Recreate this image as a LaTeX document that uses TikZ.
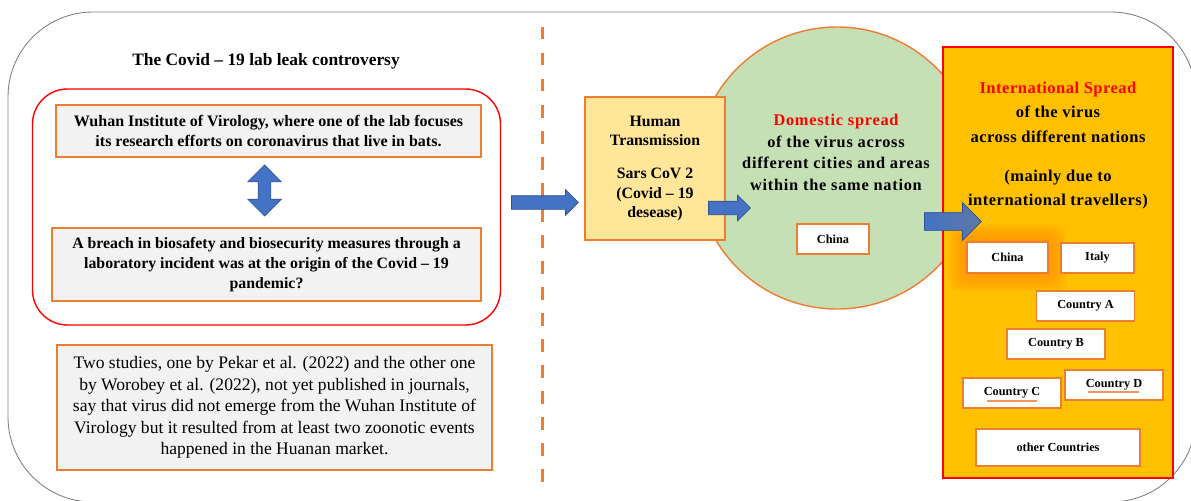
\documentclass[tikz,border=0pt]{standalone}
\usepackage{fontspec}
\setmainfont{Liberation Serif}
\newfontfamily\wideserif[LetterSpace=4.5]{Liberation Serif}
\newfontfamily\intlserif[LetterSpace=3]{Liberation Serif}
\usetikzlibrary{shapes.arrows}
\definecolor{lineorange}{HTML}{ED7D31}
\definecolor{boxgray}{HTML}{F2F2F2}
\definecolor{arrowblue}{HTML}{4472C4}
\definecolor{arrowedge}{HTML}{2F528F}
\definecolor{paleyellow}{HTML}{FFE699}
\definecolor{palegreen}{HTML}{C5E0B4}
\definecolor{gold}{HTML}{FFC000}
\definecolor{glow}{HTML}{FF9000}
\definecolor{framegray}{HTML}{808080}

\begin{document}
\begin{tikzpicture}[
    block/.style={rectangle, draw=lineorange, line width=1.1pt, fill=boxgray, align=center, inner sep=0pt},
    tag/.style={rectangle, draw=lineorange, line width=1.1pt, fill=white, inner sep=0pt, minimum width=1.96cm, minimum height=0.6cm, font=\fontsize{7}{8}\selectfont\bfseries},
    blockarrow/.style={single arrow, draw=arrowedge, fill=arrowblue, line width=0.4pt, single arrow head extend=0.12cm, inner sep=0pt, inner ysep=0.13cm}
]
\useasboundingbox (0,0) rectangle (23.82,-10.02);
\draw[framegray, line width=0.5pt, rounded corners=1.7cm] (0.16,-0.24) rectangle (23.92,-10.04);
\draw[lineorange, line width=1.7pt, dash pattern=on 0.25cm off 0.27cm] (10.85,-0.54) -- (10.85,-9.86);

% lab leak side
\node[font=\fontsize{9.9}{11}\selectfont\bfseries] (title) at (5.32,-1.22) {The Covid – 19 lab leak controversy};
\node[draw=red, line width=0.8pt, rounded corners=0.7cm, minimum width=9.36cm, minimum height=4.72cm] (leak) at (5.33,-4.14) {};
\node[block, minimum width=8.5cm, minimum height=1.04cm, font=\fontsize{9.1}{11.3}\selectfont\bfseries] (wiv) at (5.37,-2.62) {Wuhan Institute of Virology, where one of the lab focuses\\its research efforts on coronavirus that live in bats.};
\node[double arrow, draw=arrowedge, fill=arrowblue, line width=0.4pt, double arrow head extend=0.21cm, inner sep=0pt, inner ysep=0.12cm, minimum height=1.02cm, rotate=90] (both) at (5.29,-3.81) {};
\node[block, minimum width=8.58cm, minimum height=1.46cm, font=\fontsize{9}{11.2}\selectfont\bfseries] (breach) at (5.33,-5.29) {A breach in biosafety and biosecurity measures through a\\laboratory incident was at the origin of the Covid – 19\\pandemic?};
\node[block, minimum width=8.7cm, minimum height=2.5cm, font=\fontsize{10}{12.3}\selectfont] (studies) at (5.49,-8.15) {Two studies, one by Pekar et al. (2022) and the other one\\by Worobey et al. (2022), not yet published in journals,\\say that virus did not emerge from the Wuhan Institute of\\Virology but it resulted from at least two zoonotic events\\happened in the Huanan market.};

% spread side
\node[circle, draw=lineorange, line width=0.8pt, fill=palegreen, minimum size=5.64cm] (domestic) at (16.74,-3.36) {};
\node[align=center, font=\wideserif\fontsize{9.3}{12.2}\selectfont\bfseries] (domtext) at (16.72,-3.05) {\textcolor{red}{Domestic spread}\\of the virus across\\different cities and areas\\within the same nation};
\node[tag, minimum width=1.44cm] (china1) at (16.66,-4.78) {China};
\node[rectangle, draw=lineorange, line width=1.1pt, fill=paleyellow, minimum width=2.8cm, minimum height=2.86cm, align=center, font=\fontsize{9}{11.3}\selectfont\bfseries] (human) at (13.1,-3.37) {Human\\Transmission\\[7pt]Sars CoV 2\\(Covid – 19\\desease)};
\node[rectangle, draw=red, line width=1.6pt, fill=gold, minimum width=4.6cm, minimum height=8.62cm] (intl) at (21.16,-5.25) {};
\node[align=center, font=\intlserif\fontsize{9.4}{14}\selectfont\bfseries] (intltext) at (21.16,-2.91) {\textcolor{red}{International Spread}\\of the virus\\across different nations\\[8pt](mainly due to\\international travellers)};

\coordinate (glowc) at (20.15,-5.15);
\foreach \d in {0.05,0.1,...,0.36}
    \fill[glow, opacity=0.17, rounded corners=0.2cm] ([shift={(-0.81-\d,-0.31-\d)}]glowc) rectangle ([shift={(0.81+\d,0.31+\d)}]glowc);
\node[tag, minimum width=1.62cm, minimum height=0.62cm] (china2) at (glowc) {China};
\node[tag, minimum width=1.46cm] (italy) at (21.95,-5.16) {Italy};
\node[tag] (ctA) at (21.71,-6.12) {Country A};
\node[tag] (ctB) at (21.12,-6.88) {Country B};
\node[tag] (ctC) at (20.24,-7.86) {Country C};
\node[tag] (ctD) at (22.28,-7.7) {Country D};
\node[tag, minimum width=3.28cm, minimum height=0.74cm] (others) at (21.16,-8.95) {other Countries};
\draw[lineorange!80, line width=0.6pt] ([shift={(-0.5,-0.16)}]ctC.center) -- ([shift={(0.5,-0.16)}]ctC.center);
\draw[lineorange!80, line width=0.6pt] ([shift={(-0.52,-0.14)}]ctD.center) -- ([shift={(0.5,-0.14)}]ctD.center);

% arrows
\node[blockarrow, minimum height=1.34cm] (toHuman) at (10.83,-4.05) {};
\node[blockarrow, minimum height=0.84cm] (toDomestic) at (14.52,-4.16) {};
\node[blockarrow, minimum height=1.14cm, inner ysep=0.17cm, single arrow head extend=0.2cm, left color=arrowblue, right color=arrowblue!55!gray] (toIntl) at (18.97,-4.43) {};
\end{tikzpicture}
\end{document}
